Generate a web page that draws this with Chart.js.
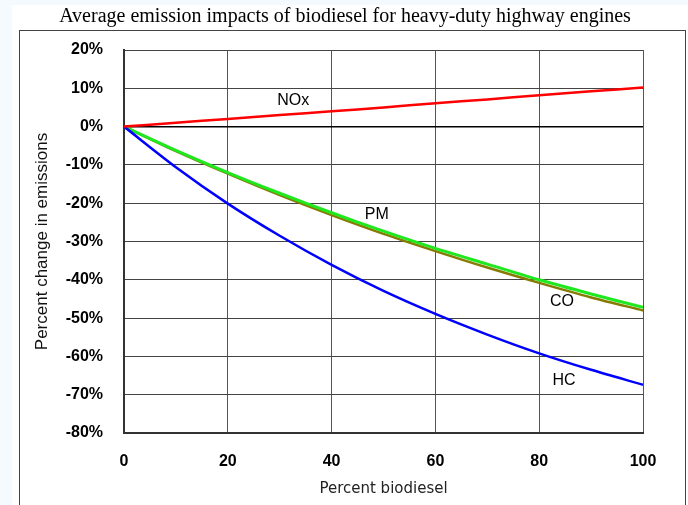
<!DOCTYPE html>
<html>
<head>
<meta charset="utf-8">
<script src="https://cdn.jsdelivr.net/npm/chart.js@4/dist/chart.umd.min.js"></script>
<style>
  html, body { margin: 0; padding: 0; background: #f4fafd; }
  #wrap { position: absolute; left: 0; top: 0; width: 688px; height: 505px; }
</style>
</head>
<body>
<div id="wrap"><canvas id="chart" width="688" height="505"></canvas></div>
<script>
// percent biodiesel
var blend = [0, 10, 20, 30, 40, 50, 60, 70, 80, 90, 100];

// percent change in emissions
var nox = [0, 1.0, 2.0, 3.0, 4.0, 5.0, 6.1, 7.1, 8.2, 9.2, 10.2];
var pm  = [0, -6.2, -12.0, -17.4, -22.5, -27.3, -31.8, -35.9, -40.0, -43.7, -47.2];
var co  = [0, -6.4, -12.3, -17.9, -23.1, -28.0, -32.5, -36.8, -40.8, -44.6, -48.0];
var hc  = [0, -10.6, -20.1, -28.5, -36.1, -42.9, -48.9, -54.3, -59.2, -63.5, -67.4];

var xTicks = [0, 20, 40, 60, 80, 100];
var yTicks = [20, 10, 0, -10, -20, -30, -40, -50, -60, -70, -80];

var chartTitle = 'Average emission impacts of biodiesel for heavy-duty highway engines';

// curve names written next to the lines (data coords)
var curveLabels = [
    { text: 'NOx', x: 32.6, y: 6.7 },
    { text: 'PM',  x: 48.7, y: -23.1 },
    { text: 'CO',  x: 84.4, y: -45.8 },
    { text: 'HC',  x: 84.8, y: -66.2 }
];

function pts(arr) {
    return arr.map(function (v, i) { return { x: blend[i], y: v }; });
}

// page background, outer frame and the title above it
var framePlugin = {
    id: 'frame',
    beforeDraw: function (chart) {
        var ctx = chart.ctx;
        ctx.save();
        ctx.fillStyle = '#f4fafd';
        ctx.fillRect(0, 0, chart.width, chart.height);
        ctx.fillStyle = '#ffffff';
        ctx.fillRect(12, 5, chart.width - 12, chart.height - 5);
        ctx.strokeStyle = '#444444';
        ctx.lineWidth = 1;
        ctx.strokeRect(19.5, 30.5, 666, 490);

        ctx.font = "20px 'Liberation Serif', 'Times New Roman', serif";
        ctx.fillStyle = '#000000';
        ctx.textAlign = 'center';
        ctx.textBaseline = 'middle';
        ctx.fillText(chartTitle, 345, 17);
        ctx.restore();
    }
};

var labelPlugin = {
    id: 'curveLabels',
    afterDatasetsDraw: function (chart) {
        var ctx = chart.ctx;
        var xs = chart.scales.x, ys = chart.scales.y;
        ctx.save();
        ctx.font = '16px "Liberation Sans", Arial, sans-serif';
        ctx.fillStyle = '#000000';
        ctx.textAlign = 'center';
        ctx.textBaseline = 'middle';
        curveLabels.forEach(function (l) {
            ctx.fillText(l.text, xs.getPixelForValue(l.x), ys.getPixelForValue(l.y));
        });
        ctx.restore();
    }
};

var ctx = document.getElementById('chart').getContext('2d');
var chart = new Chart(ctx, {
    type: 'line',
    data: {
        datasets: [
            { label: 'NOx', data: pts(nox), borderColor: '#ff0000', borderWidth: 2.5 },
            { label: 'HC',  data: pts(hc),  borderColor: '#0000ff', borderWidth: 2.5 },
            { label: 'PM',  data: pts(pm),  borderColor: '#1ee81e', borderWidth: 3 },
            { label: 'CO',  data: pts(co),  borderColor: '#867a00', borderWidth: 2.5 }
        ]
    },
    options: {
        responsive: false,
        animation: false,
        layout: {
            padding: { left: 20, right: 45, top: 50, bottom: 7 }
        },
        elements: {
            point: { radius: 0 },
            line: { tension: 0.3, fill: false }
        },
        plugins: {
            legend: { display: false },
            tooltip: { enabled: false },
            title: { display: false }
        },
        scales: {
            x: {
                type: 'linear',
                min: 0,
                max: 100,
                afterFit: function (s) { s.height = 65; },
                afterBuildTicks: function (s) {
                    s.ticks = xTicks.map(function (v) { return { value: v }; });
                },
                grid: {
                    color: '#555555',
                    lineWidth: 1,
                    drawTicks: false
                },
                border: { display: true, color: '#333333', width: 2 },
                ticks: {
                    color: '#000000',
                    padding: 19,
                    font: { family: "'Liberation Sans', Arial, sans-serif", size: 16, weight: 'bold' }
                },
                title: {
                    display: true,
                    text: 'Percent biodiesel',
                    color: '#222222',
                    padding: 0,
                    font: { family: "'DejaVu Sans', sans-serif", size: 15 }
                }
            },
            y: {
                type: 'linear',
                min: -80,
                max: 20,
                afterFit: function (s) { s.width = 104; },
                afterBuildTicks: function (s) {
                    s.ticks = yTicks.map(function (v) { return { value: v }; });
                },
                grid: {
                    color: function (c) { return c.tick && c.tick.value === 0 ? '#000000' : '#444444'; },
                    lineWidth: function (c) { return c.tick && c.tick.value === 0 ? 1.5 : 1; },
                    drawTicks: false
                },
                border: { display: true, color: '#333333', width: 2 },
                ticks: {
                    color: '#000000',
                    padding: 21,
                    callback: function (v) { return v + '%'; },
                    font: { family: "'Liberation Sans', Arial, sans-serif", size: 16, weight: 'bold' }
                },
                title: {
                    display: true,
                    text: 'Percent change in emissions',
                    color: '#111111',
                    padding: { top: 12, bottom: 0 },
                    font: { family: "'Liberation Sans', Arial, sans-serif", size: 17 }
                }
            }
        }
    },
    plugins: [framePlugin, labelPlugin]
});
</script>
</body>
</html>
